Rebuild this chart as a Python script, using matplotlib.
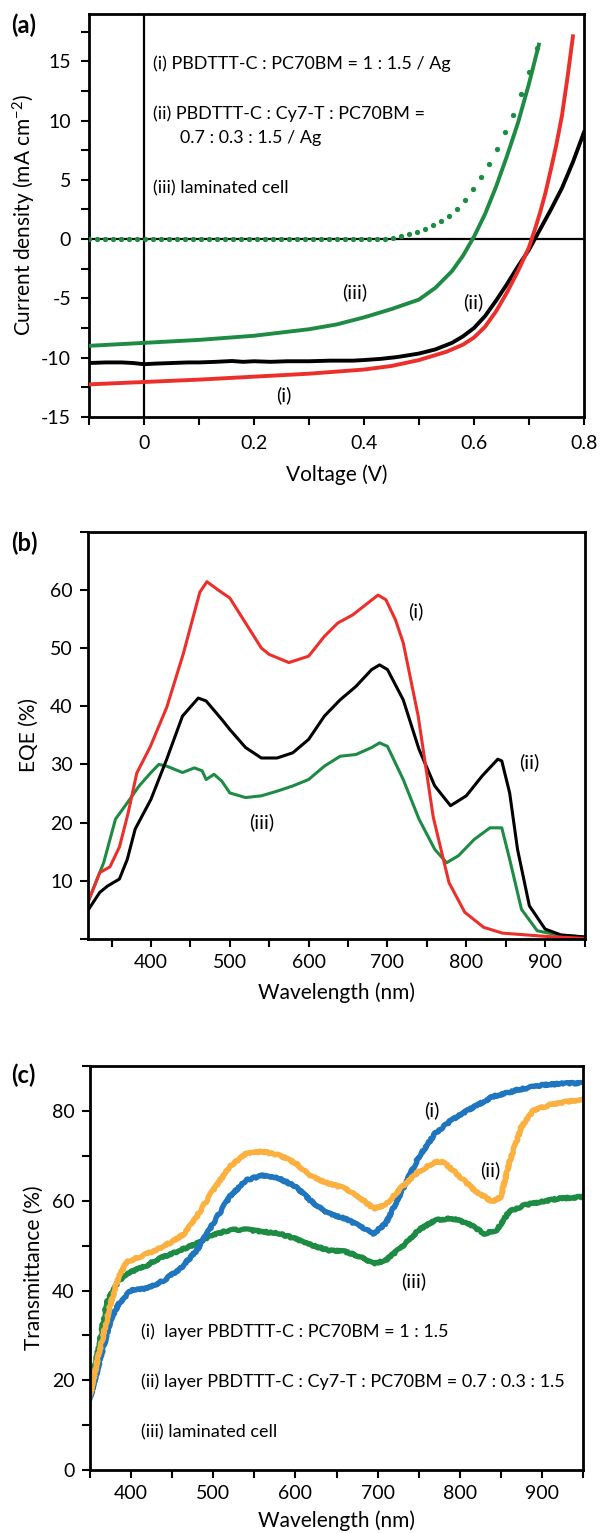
import numpy as np
import matplotlib
matplotlib.use('Agg')
from matplotlib import pyplot as plt
from matplotlib.ticker import MultipleLocator

plt.rcParams['font.family'] = ['Lato', 'DejaVu Sans']
plt.rcParams['axes.unicode_minus'] = False
plt.rcParams['mathtext.default'] = 'regular'

RED = '#ec2f2a'
GREEN = '#1e8b45'
BLUE = '#1f75be'
ORANGE = '#fbb040'

# ---- (a) J-V curves ----
v_i = [-0.1, 0.0, 0.1, 0.2, 0.3, 0.4, 0.45, 0.5, 0.55, 0.58, 0.6, 0.62, 0.64,
       0.66, 0.68, 0.7, 0.71, 0.72, 0.73, 0.74, 0.75, 0.76, 0.77, 0.78]
j_i = [-12.25, -12.05, -11.85, -11.6, -11.35, -11.0, -10.7, -10.2, -9.5, -8.9,
       -8.3, -7.4, -6.1, -4.5, -2.7, -0.7, 0.7, 2.2, 3.9, 5.9, 8.0, 10.4, 13.6, 17.1]

v_ii = [-0.1, -0.07, -0.04, -0.02, 0.0, 0.02, 0.05, 0.08, 0.1, 0.13, 0.16, 0.18,
        0.2, 0.23, 0.26, 0.3, 0.34, 0.38, 0.4, 0.43, 0.46, 0.5, 0.53, 0.56, 0.58,
        0.6, 0.62, 0.64, 0.66, 0.68, 0.7, 0.72, 0.74, 0.76, 0.78, 0.8]
j_ii = [-10.45, -10.4, -10.4, -10.45, -10.55, -10.5, -10.45, -10.4, -10.4, -10.35,
        -10.28, -10.35, -10.3, -10.35, -10.3, -10.3, -10.25, -10.25, -10.2, -10.1,
        -9.95, -9.65, -9.3, -8.75, -8.2, -7.5, -6.5, -5.2, -3.8, -2.3, -0.9, 0.8,
        2.5, 4.3, 6.5, 9.0]

v_iii = [-0.1, 0.0, 0.1, 0.2, 0.3, 0.35, 0.4, 0.45, 0.5, 0.53, 0.56, 0.58, 0.6,
         0.62, 0.64, 0.66, 0.68, 0.7, 0.718]
j_iii = [-9.0, -8.75, -8.5, -8.15, -7.6, -7.2, -6.6, -5.9, -5.1, -4.1, -2.7, -1.4,
         0.2, 2.1, 4.4, 7.0, 9.8, 13.1, 16.4]

# dark current of laminated cell (measured points, evenly spaced sweep)
dark_v = np.linspace(-0.1, 0.714, 57)
dark_j = [0.0] * 37 + [0.05, 0.12, 0.25, 0.42, 0.62, 0.85, 1.15, 1.5, 1.95, 2.55,
                       3.3, 4.2, 5.2, 6.3, 7.6, 9.0, 10.5, 12.2, 14.1, 16.1]

# ---- (b) EQE ----
wl_b_i = [320, 335, 348, 360, 371, 382, 399, 420, 441, 462, 471, 485, 500, 520,
          540, 550, 575, 600, 620, 637, 656, 688, 698, 710, 720, 739, 758, 778,
          798, 822, 846, 900, 950]
eqe_i = [6.3, 11.4, 12.4, 15.8, 21.6, 28.5, 33.0, 39.8, 49.0, 59.6, 61.4, 60.0,
         58.6, 54.3, 50.0, 48.9, 47.5, 48.6, 52.0, 54.3, 55.7, 59.1, 58.3, 54.9,
         50.9, 38.3, 21.0, 9.7, 4.6, 2.0, 1.0, 0.45, 0.1]

wl_b_ii = [320, 335, 345, 360, 370, 380, 400, 420, 440, 460, 470, 490, 500, 520,
           540, 560, 580, 600, 620, 640, 660, 680, 690, 700, 720, 740, 760, 780,
           800, 820, 840, 845, 855, 865, 880, 900, 920, 950]
eqe_ii = [4.9, 8.0, 9.1, 10.3, 13.7, 18.9, 24.0, 30.9, 38.3, 41.4, 40.9, 37.7,
          36.0, 32.9, 31.1, 31.1, 32.0, 34.3, 38.3, 41.1, 43.4, 46.3, 47.1, 46.3,
          41.1, 32.6, 26.3, 22.9, 24.6, 28.0, 30.9, 30.6, 25.1, 15.4, 5.7, 1.7,
          0.7, 0.35]

wl_b_iii = [320, 340, 355, 370, 385, 400, 410, 420, 440, 455, 465, 470, 480, 490,
            500, 520, 540, 560, 580, 600, 620, 640, 660, 680, 690, 700, 720, 740,
            760, 775, 790, 810, 830, 845, 855, 870, 890, 920, 950]
eqe_iii = [6.3, 13.1, 20.6, 23.4, 26.3, 28.6, 30.0, 29.7, 28.6, 29.4, 28.9, 27.4,
           28.3, 27.1, 25.1, 24.3, 24.6, 25.4, 26.3, 27.4, 29.7, 31.4, 31.7, 32.9,
           33.7, 33.1, 27.4, 20.6, 15.4, 13.1, 14.3, 17.1, 19.1, 19.1, 13.7, 5.1,
           1.4, 0.6, 0.35]

# ---- (c) transmittance ----
wl_c_i = [350, 360, 375, 385, 400, 420, 440, 460, 480, 500, 520, 540, 560, 580,
          600, 620, 640, 660, 680, 695, 710, 730, 750, 770, 790, 810, 840, 870,
          900, 930, 950]
tr_i = [16.0, 23.0, 33.4, 37.1, 40.1, 40.5, 42.3, 44.9, 49.0, 55.0, 60.9, 64.6,
        65.7, 65.0, 63.2, 59.8, 57.2, 56.1, 54.2, 52.7, 55.0, 62.4, 69.8, 75.0,
        78.0, 80.2, 83.2, 84.7, 85.8, 86.2, 86.2]

wl_c_ii = [350, 360, 375, 385, 395, 410, 430, 450, 465, 480, 500, 520, 540, 560,
           580, 600, 620, 640, 660, 680, 695, 710, 730, 750, 770, 780, 800, 820,
           840, 850, 860, 875, 890, 910, 930, 950]
tr_ii = [16.7, 25.3, 37.1, 43.1, 46.4, 47.5, 49.0, 50.9, 52.7, 56.5, 62.4, 67.6,
         70.6, 71.0, 70.2, 68.4, 65.4, 63.9, 62.8, 60.5, 58.3, 59.1, 63.2, 66.5,
         68.7, 68.7, 65.4, 62.0, 59.8, 60.9, 68.4, 76.5, 80.2, 81.4, 82.1, 82.5]

wl_c_iii = [350, 360, 370, 380, 390, 400, 410, 420, 430, 445, 460, 480, 500, 520,
            540, 560, 580, 600, 620, 640, 660, 680, 695, 710, 730, 750, 770, 790,
            810, 830, 845, 860, 880, 900, 920, 950]
tr_iii = [17.8, 26.7, 37.1, 40.9, 43.1, 44.2, 44.9, 45.7, 46.8, 47.9, 49.0, 50.5,
          52.4, 53.5, 53.6, 53.1, 52.7, 51.6, 50.1, 49.0, 48.7, 47.5, 46.0, 46.8,
          49.8, 53.5, 55.7, 56.1, 55.0, 52.7, 53.5, 57.6, 59.1, 59.8, 60.5, 60.9]

TICK_FS = 14
LABEL_FS = 15
CURVE_FS = 14.5


def style_axes(ax, pad=5):
    for s in ax.spines.values():
        s.set_linewidth(2)
    ax.tick_params(which='both', direction='out', length=6, width=1.5,
                   labelsize=TICK_FS, pad=pad)


fig = plt.figure(figsize=(6.02, 15.33), dpi=100)

# (a)
ax = fig.add_axes([0.148, 0.728, 0.822, 0.263])
ax.axhline(0, color='k', lw=1.6, zorder=1)
ax.axvline(0, color='k', lw=1.6, zorder=1)
ax.plot(dark_v, dark_j, 'o', color=GREEN, ms=3.8, mew=0, zorder=3)
ax.plot(v_iii, j_iii, color=GREEN, lw=2.8, zorder=3)
ax.plot(v_ii, j_ii, color='k', lw=2.8, zorder=3)
ax.plot(v_i, j_i, color=RED, lw=2.8, zorder=3)
ax.set_xlim(-0.1, 0.8)
ax.set_ylim(-15, 19)
ax.set_xticks([0, 0.2, 0.4, 0.6, 0.8], ['0', '0.2', '0.4', '0.6', '0.8'])
ax.xaxis.set_minor_locator(MultipleLocator(0.1))
ax.set_yticks([-15, -10, -5, 0, 5, 10, 15])
ax.yaxis.set_minor_locator(MultipleLocator(2.5))
style_axes(ax, pad=7)
ax.set_xlabel('Voltage (V)', fontsize=LABEL_FS, labelpad=9)
ax.set_ylabel('Current density (mA cm$^{-2}$)', fontsize=LABEL_FS, labelpad=2)
ax.text(0.017, 14.8, '(i) PBDTTT-C : PC70BM = 1 : 1.5 / Ag', fontsize=12.9, va='center')
ax.text(0.017, 10.6, '(ii) PBDTTT-C : Cy7-T : PC70BM =', fontsize=12.9, va='center')
ax.text(0.066, 8.5, '0.7 : 0.3 : 1.5 / Ag', fontsize=12.9, va='center')
ax.text(0.017, 4.3, '(iii) laminated cell', fontsize=12.9, va='center')
ax.text(0.383, -4.5, '(iii)', fontsize=CURVE_FS, ha='center', va='center')
ax.text(0.598, -5.3, '(ii)', fontsize=CURVE_FS, ha='center', va='center')
ax.text(0.254, -13.2, '(i)', fontsize=CURVE_FS, ha='center', va='center')

# (b)
ax = fig.add_axes([0.146, 0.3875, 0.825, 0.2657])
ax.plot(wl_b_iii, eqe_iii, color=GREEN, lw=2.2)
ax.plot(wl_b_ii, eqe_ii, color='k', lw=2.2)
ax.plot(wl_b_i, eqe_i, color=RED, lw=2.2)
ax.set_xlim(320, 950)
ax.set_ylim(0, 70)
ax.set_xticks([400, 500, 600, 700, 800, 900])
ax.xaxis.set_minor_locator(MultipleLocator(50))
ax.set_yticks(range(0, 80, 10), ['', '10', '20', '30', '40', '50', '60', ''])
style_axes(ax)
ax.set_xlabel('Wavelength (nm)', fontsize=LABEL_FS, labelpad=8)
ax.set_ylabel('EQE (%)', fontsize=LABEL_FS, labelpad=8)
ax.text(736, 56.3, '(i)', fontsize=CURVE_FS, ha='center', va='center')
ax.text(880, 30.3, '(ii)', fontsize=CURVE_FS, ha='center', va='center')
ax.text(541, 20, '(iii)', fontsize=CURVE_FS, ha='center', va='center')

# (c)
ax = fig.add_axes([0.1495, 0.041, 0.819, 0.2635])
for wl, tr, col in [(wl_c_iii, tr_iii, GREEN), (wl_c_i, tr_i, BLUE),
                    (wl_c_ii, tr_ii, ORANGE)]:
    ln, = ax.plot(wl, tr, color=col, lw=3.8)
    ln.set_sketch_params(scale=0.8, length=3, randomness=20)
ax.set_xlim(350, 950)
ax.set_ylim(0, 90)
ax.set_xticks([400, 500, 600, 700, 800, 900])
ax.xaxis.set_minor_locator(MultipleLocator(50))
ax.set_yticks([0, 20, 40, 60, 80])
ax.yaxis.set_minor_locator(MultipleLocator(10))
style_axes(ax)
ax.set_xlabel('Wavelength (nm)', fontsize=LABEL_FS, labelpad=6)
ax.set_ylabel('Transmittance (%)', fontsize=LABEL_FS, labelpad=6)
ax.text(412, 30.8, '(i)  layer PBDTTT-C : PC70BM = 1 : 1.5', fontsize=13.0, va='center')
ax.text(412, 19.7, '(ii) layer PBDTTT-C : Cy7-T : PC70BM = 0.7 : 0.3 : 1.5',
        fontsize=13.0, va='center')
ax.text(412, 8.5, '(iii) laminated cell', fontsize=13.0, va='center')
ax.text(766, 80.2, '(i)', fontsize=CURVE_FS, ha='center', va='center')
ax.text(837, 66.9, '(ii)', fontsize=CURVE_FS, ha='center', va='center')
ax.text(744, 42, '(iii)', fontsize=CURVE_FS, ha='center', va='center')

fig.text(11 / 602, 1 - 25 / 1533, '(a)', fontsize=17, fontweight='bold', va='center')
fig.text(11 / 602, 1 - 543 / 1533, '(b)', fontsize=17, fontweight='bold', va='center')
fig.text(11 / 602, 1 - 1075 / 1533, '(c)', fontsize=17, fontweight='bold', va='center')

fig.savefig('out.png', dpi=100)
